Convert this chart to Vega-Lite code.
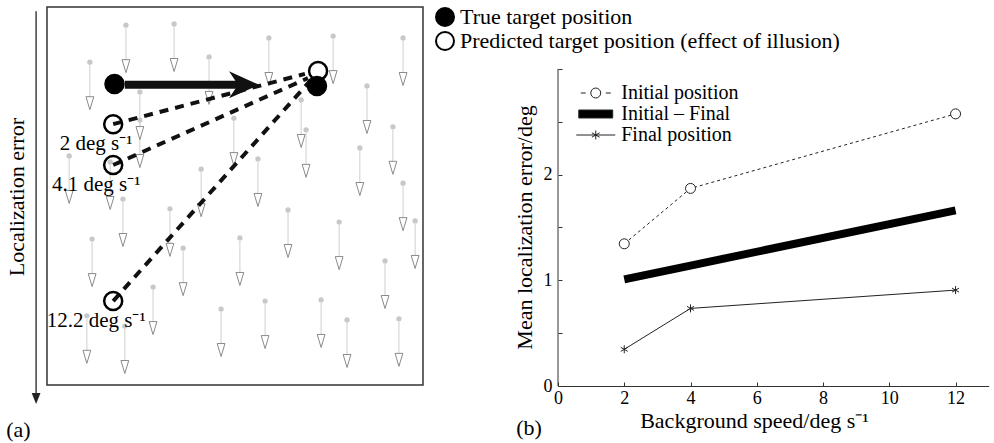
{
  "$schema": "https://vega.github.io/schema/vega-lite/v6.json",
  "padding": {"left": 4, "top": 5, "right": 4, "bottom": 0},
  "bounds": "flush",
  "spacing": 135,
  "resolve": {
    "scale": {"fill": "independent", "shape": "independent"},
    "legend": {"fill": "independent", "shape": "independent"}
  },
  "config": {
    "font": "Liberation Serif",
    "view": {"stroke": null},
    "axis": {"labelFont": "Liberation Serif", "titleFont": "Liberation Serif", "titleFontWeight": "normal", "labelColor": "black", "titleColor": "black", "grid": false},
    "legend": {"labelFont": "Liberation Serif", "labelColor": "black", "labelLimit": 600},
    "text": {"font": "Liberation Serif", "color": "black"}
  },
  "datasets": {
    "background": [
      {"x": 21.0, "y": 4.8}, {"x": 33.8, "y": 4.5}, {"x": 11.4, "y": 14.6}, {"x": 43.1, "y": 13.2},
      {"x": 59.0, "y": 8.2}, {"x": 76.1, "y": 7.7}, {"x": 94.7, "y": 8.2}, {"x": 24.7, "y": 22.5},
      {"x": 24.7, "y": 29.9}, {"x": 49.7, "y": 29.4}, {"x": 67.6, "y": 24.6}, {"x": 68.9, "y": 32.5},
      {"x": 85.1, "y": 20.9}, {"x": 92.0, "y": 31.7}, {"x": 83.2, "y": 37.3}, {"x": 94.7, "y": 46.6},
      {"x": 97.9, "y": 56.6}, {"x": 5.9, "y": 39.4}, {"x": 16.8, "y": 41.0}, {"x": 41.0, "y": 42.9},
      {"x": 56.1, "y": 40.2}, {"x": 20.2, "y": 50.8}, {"x": 32.7, "y": 53.4}, {"x": 12.0, "y": 61.4},
      {"x": 36.2, "y": 63.8}, {"x": 51.3, "y": 61.1}, {"x": 64.1, "y": 53.7}, {"x": 77.7, "y": 56.9},
      {"x": 89.9, "y": 67.2}, {"x": 28.2, "y": 74.1}, {"x": 46.3, "y": 79.9}, {"x": 58.0, "y": 77.8},
      {"x": 72.9, "y": 77.5}, {"x": 79.8, "y": 82.8}, {"x": 93.6, "y": 82.5}, {"x": 10.6, "y": 81.7},
      {"x": 20.7, "y": 84.4}
    ],
    "dashes": [
      {"speed": "2", "x": 17.6, "y": 31.0}, {"speed": "2", "x": 68.6, "y": 17.7},
      {"speed": "4.1", "x": 17.6, "y": 41.8}, {"speed": "4.1", "x": 69.4, "y": 18.8},
      {"speed": "12.2", "x": 17.6, "y": 77.8}, {"speed": "12.2", "x": 70.2, "y": 19.3}
    ],
    "targets": [
      {"type": "Predicted target position (effect of illusion)", "x": 72.1, "y": 16.9, "label": ""},
      {"type": "Predicted target position (effect of illusion)", "x": 17.6, "y": 31.0, "label": "2 deg s⁻¹"},
      {"type": "Predicted target position (effect of illusion)", "x": 17.6, "y": 41.8, "label": "4.1 deg s⁻¹"},
      {"type": "Predicted target position (effect of illusion)", "x": 17.6, "y": 77.8, "label": "12.2 deg s⁻¹"},
      {"type": "True target position", "x": 17.95, "y": 20.4, "label": ""},
      {"type": "True target position", "x": 71.8, "y": 20.9, "label": ""}
    ],
    "one": [{"n": 1}],
    "results": [
      {"speed": 2, "error": 1.345, "series": "Initial position"},
      {"speed": 4, "error": 1.869, "series": "Initial position"},
      {"speed": 12, "error": 2.574, "series": "Initial position"},
      {"speed": 2, "error": 1.008, "series": "Initial – Final"},
      {"speed": 4, "error": 1.139, "series": "Initial – Final"},
      {"speed": 12, "error": 1.661, "series": "Initial – Final"},
      {"speed": 2, "error": 0.347, "series": "Final position"},
      {"speed": 4, "error": 0.734, "series": "Final position"},
      {"speed": 12, "error": 0.907, "series": "Final position"}
    ]
  },
  "hconcat": [
    {
      "width": 376,
      "height": 378,
      "view": {"stroke": "#333", "strokeWidth": 1.5},
      "layer": [
        {"data": {"name": "background"}, "mark": {"type": "rule", "color": "#cfcfcf", "strokeWidth": 1, "yOffset": 3, "y2Offset": 35},
         "encoding": {
           "x": {"field": "x", "type": "quantitative", "scale": {"domain": [0, 100], "nice": false, "zero": false}, "axis": null},
           "y": {"field": "y", "type": "quantitative", "scale": {"domain": [0, 100], "nice": false, "zero": false, "reverse": true}, "axis": null},
           "y2": {"field": "y"}}},
        {"data": {"name": "background"}, "mark": {"type": "point", "shape": "circle", "filled": true, "color": "#c8c8c8", "size": 28, "opacity": 1},
         "encoding": {
           "x": {"field": "x", "type": "quantitative", "axis": null},
           "y": {"field": "y", "type": "quantitative", "axis": null}}},
        {"data": {"name": "background"}, "mark": {"type": "point", "shape": "M-0.6,-1L0.6,-1L0,1Z", "fill": "white", "stroke": "#8a8a8a", "strokeWidth": 1, "size": 169, "opacity": 1, "yOffset": 41},
         "encoding": {
           "x": {"field": "x", "type": "quantitative", "axis": null},
           "y": {"field": "y", "type": "quantitative", "axis": null}}},
        {"data": {"name": "dashes"}, "mark": {"type": "line", "color": "#111", "strokeWidth": 4, "strokeDash": [9, 7]},
         "encoding": {
           "x": {"field": "x", "type": "quantitative", "axis": null},
           "y": {"field": "y", "type": "quantitative", "axis": null},
           "detail": {"field": "speed"}}},
        {"data": {"name": "one"}, "mark": {"type": "rule", "color": "#111", "strokeWidth": 8},
         "encoding": {"x": {"datum": 20.7, "type": "quantitative", "axis": null}, "x2": {"datum": 51.1}, "y": {"datum": 20.6, "type": "quantitative", "axis": null}}},
        {"data": {"name": "one"}, "mark": {"type": "point", "shape": "M1,0L-1,-0.9L-0.4,0L-1,0.9Z", "filled": true, "color": "#111", "size": 900, "opacity": 1},
         "encoding": {"x": {"datum": 52.4, "type": "quantitative", "axis": null}, "y": {"datum": 20.6, "type": "quantitative", "axis": null}}},
        {"data": {"name": "one"}, "mark": {"type": "rule", "color": "#222", "strokeWidth": 1.3},
         "encoding": {"x": {"datum": -2.9, "type": "quantitative", "axis": null}, "y": {"datum": 1.1, "type": "quantitative", "axis": null}, "y2": {"datum": 102.4}}},
        {"data": {"name": "one"}, "mark": {"type": "point", "shape": "M-0.8,-1L0.8,-1L0,1Z", "filled": true, "color": "#222", "size": 121, "opacity": 1},
         "encoding": {"x": {"datum": -2.9, "type": "quantitative", "axis": null}, "y": {"datum": 103.6, "type": "quantitative", "axis": null}}},
        {"data": {"name": "targets"}, "mark": {"type": "point", "shape": "circle", "stroke": "black", "strokeWidth": 2.5, "size": 324, "opacity": 1},
         "encoding": {
           "x": {"field": "x", "type": "quantitative", "axis": null},
           "y": {"field": "y", "type": "quantitative", "axis": null},
           "fill": {"field": "type", "type": "nominal",
                    "scale": {"domain": ["True target position", "Predicted target position (effect of illusion)"], "range": ["black", "transparent"]},
                    "legend": {"orient": "none", "legendX": 387, "legendY": -1, "title": null, "symbolSize": 324, "symbolType": "circle", "symbolStrokeColor": "black", "symbolStrokeWidth": 2, "labelFontSize": 22, "labelOffset": 4, "labelLimit": 600, "rowPadding": -4, "padding": 0,
                               "encode": {"symbols": {"update": {"stroke": {"value": "black"}, "strokeWidth": {"value": 2}}}}}}
         }},
        {"data": {"name": "targets"}, "transform": [{"filter": "datum.label !== ''"}],
         "mark": {"type": "text", "align": "center", "baseline": "alphabetic", "dx": -17, "dy": 26, "fontSize": 21},
         "encoding": {
           "x": {"field": "x", "type": "quantitative", "axis": null},
           "y": {"field": "y", "type": "quantitative", "axis": null},
           "text": {"field": "label"}}},
        {"data": {"name": "one"}, "mark": {"type": "text", "align": "center", "baseline": "middle", "angle": 270, "fontSize": 22},
         "encoding": {"x": {"datum": -8.1, "type": "quantitative", "axis": null}, "y": {"datum": 50.3, "type": "quantitative", "axis": null}, "text": {"value": "Localization error"}}},
        {"data": {"name": "one"}, "mark": {"type": "text", "align": "center", "baseline": "middle", "fontSize": 22},
         "encoding": {"x": {"datum": -7.6, "type": "quantitative", "axis": null}, "y": {"datum": 111.9, "type": "quantitative", "axis": null}, "text": {"value": "(a)"}}}
      ]
    },
    {
      "width": 430.7,
      "height": 379,
      "view": {"stroke": null},
      "layer": [
        {"data": {"name": "results"}, "transform": [{"filter": "datum.series === 'Initial – Final'"}],
         "mark": {"type": "line", "color": "black", "strokeWidth": 8, "strokeCap": "butt"},
         "encoding": {
           "x": {"field": "speed", "type": "quantitative", "scale": {"domain": [0, 13], "nice": false, "zero": false},
                 "axis": {"title": "Background speed/deg s⁻¹", "values": [0, 2, 4, 6, 8, 10, 12], "format": "d", "tickSize": -4, "tickColor": "#333", "domainColor": "#333", "labelFontSize": 18, "labelPadding": 7, "labelFlush": false, "titleFontSize": 22, "titleX": 196, "titleY": 41, "titleBaseline": "alphabetic", "titleAlign": "center"}},
           "y": {"field": "error", "type": "quantitative", "scale": {"domain": [0, 3.585], "nice": false, "zero": false},
                 "axis": {"title": "Mean localization error/deg", "values": [0, 0.5, 1, 1.5, 2, 2.5, 3], "labelExpr": "datum.value % 1 === 0 && datum.value < 3 ? format(datum.value, 'd') : ''", "domain": false, "tickSize": -4, "tickColor": "#333", "labelFontSize": 18, "labelPadding": 10, "labelFlush": false, "titleFontSize": 22, "titleX": -33.5, "titleY": 220, "titleAngle": 270, "titleAlign": "center", "titleBaseline": "middle"}}
         }},
        {"data": {"name": "one"}, "mark": {"type": "rule", "color": "#333", "strokeWidth": 1},
         "encoding": {"x": {"datum": 0, "type": "quantitative"}, "y": {"datum": 0, "type": "quantitative"}, "y2": {"datum": 3}}},
        {"data": {"name": "results"}, "transform": [{"filter": "datum.series === 'Initial position'"}],
         "mark": {"type": "line", "color": "#222", "strokeWidth": 1, "strokeDash": [3, 3]},
         "encoding": {"x": {"field": "speed", "type": "quantitative"}, "y": {"field": "error", "type": "quantitative"}}},
        {"data": {"name": "results"}, "transform": [{"filter": "datum.series === 'Final position'"}],
         "mark": {"type": "line", "color": "#222", "strokeWidth": 1},
         "encoding": {"x": {"field": "speed", "type": "quantitative"}, "y": {"field": "error", "type": "quantitative"}}},
        {"data": {"name": "results"}, "transform": [{"filter": "datum.series === 'Initial position'"}],
         "mark": {"type": "point", "shape": "circle", "size": 100, "fill": "white", "stroke": "#222", "strokeWidth": 1, "opacity": 1},
         "encoding": {"x": {"field": "speed", "type": "quantitative"}, "y": {"field": "error", "type": "quantitative"}}},
        {"data": {"name": "results"}, "transform": [{"filter": "datum.series === 'Final position'"}],
         "mark": {"type": "point", "shape": "M0,-1V1M-0.87,-0.5L0.87,0.5M-0.87,0.5L0.87,-0.5", "size": 64, "stroke": "#222", "strokeWidth": 1, "opacity": 1},
         "encoding": {"x": {"field": "speed", "type": "quantitative"}, "y": {"field": "error", "type": "quantitative"}}},
        {"data": {"name": "results"}, "transform": [{"filter": "datum.series === 'none'"}],
         "mark": {"type": "point", "stroke": "#222", "color": "#222", "strokeWidth": 1, "opacity": 1},
         "encoding": {
           "x": {"field": "speed", "type": "quantitative"}, "y": {"field": "error", "type": "quantitative"},
           "shape": {"field": "series", "type": "nominal",
                     "scale": {"domain": ["Initial position", "Initial – Final", "Final position"],
                               "range": ["M-1.54,0H-1.03M-0.51,0A0.51,0.51 0 1,1 0.51,0A0.51,0.51 0 1,1 -0.51,0ZM1.03,0H1.54", "M-1.74,-0.41H1.74V0.41H-1.74Z", "M-2,0H2M0,-0.46V0.46M-0.4,-0.23L0.4,0.23M-0.4,0.23L0.4,-0.23"]},
                     "legend": {"orient": "none", "legendX": 27.25, "legendY": 75.5, "title": null, "symbolSize": 380, "symbolStrokeColor": "#222", "symbolStrokeWidth": 1, "symbolOpacity": 1, "labelFontSize": 20, "labelOffset": 15, "rowPadding": -7, "padding": 0,
                                "encode": {"symbols": {"update": {"stroke": {"value": "#222"}, "strokeWidth": {"value": 1}, "opacity": {"value": 1}}}}}},
           "fill": {"field": "series", "type": "nominal",
                    "scale": {"domain": ["Initial position", "Initial – Final", "Final position"], "range": ["white", "black", "transparent"]},
                    "legend": {"orient": "none", "legendX": 27.25, "legendY": 75.5, "title": null, "symbolSize": 380, "symbolStrokeColor": "#222", "symbolStrokeWidth": 1, "symbolOpacity": 1, "labelFontSize": 20, "labelOffset": 15, "rowPadding": -7, "padding": 0,
                               "encode": {"symbols": {"update": {"stroke": {"value": "#222"}, "strokeWidth": {"value": 1}, "opacity": {"value": 1}}}}}}
         }},
        {"data": {"name": "one"}, "mark": {"type": "text", "align": "center", "baseline": "middle", "fontSize": 22},
         "encoding": {"x": {"datum": -0.875, "type": "quantitative"}, "y": {"datum": -0.397, "type": "quantitative"}, "text": {"value": "(b)"}}}
      ]
    }
  ]
}
